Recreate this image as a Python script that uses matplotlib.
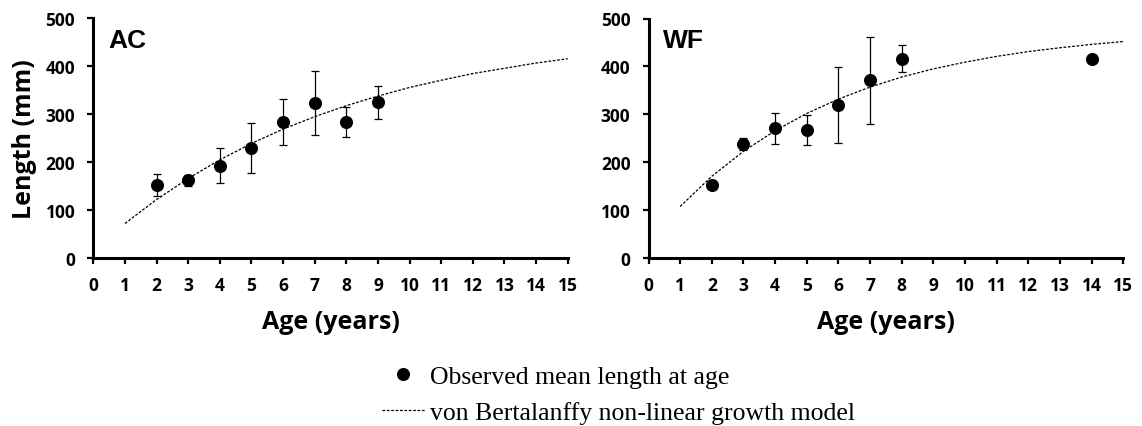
import numpy as np
import matplotlib
matplotlib.use("Agg")
import matplotlib.pyplot as plt
from matplotlib.lines import Line2D

# ---------------- data ----------------
ac_age = [2, 3, 4, 5, 6, 7, 8, 9]
ac_mean = [152, 161, 192, 229, 283, 322, 283, 324]
ac_err = [23, 12, 37, 52, 48, 67, 32, 35]

wf_age = [2, 3, 4, 5, 6, 7, 8, 14]
wf_mean = [153, 238, 271, 267, 319, 371, 416, 416]
wf_err = [np.nan, 12, 32, 31, 79, 91, 28, np.nan]

model_age = [1, 2, 3, 4, 5, 6, 7, 8, 9, 10, 11, 12, 13, 14, 15]
ac_model = [71, 121, 165, 204, 238, 268, 294, 317, 337, 355, 370, 384, 395, 406, 415]
wf_model = [108, 171, 223, 266, 302, 332, 357, 378, 395, 409, 421, 431, 439, 446, 452]

panel_names = ["AC", "WF"]
x_ticks = list(range(0, 16))
y_ticks = [0, 100, 200, 300, 400, 500]
x_title = "Age (years)"
y_title = "Length (mm)"
legend_labels = ["Observed mean length at age", "von Bertalanffy non-linear growth model"]

# ---------------- figure ----------------
W, H = 1142, 427
fig = plt.figure(figsize=(W / 100, H / 100), dpi=100)

def fx(px):
    return px / W

def fy(py):
    return 1 - py / H

tick_size = 12.5
title_font = dict(family="Open Sans", weight="bold", size=18)

axes_px = [(93.3, 567.7, 19.0, 258.5), (648.5, 1123.3, 19.5, 259.3)]
series = [(ac_age, ac_mean, ac_err, ac_model), (wf_age, wf_mean, wf_err, wf_model)]
name_px = [(108, 48), (663, 48)]

for i, ((x0, x1, yt, yb), (age, mean, err, model)) in enumerate(zip(axes_px, series)):
    ax = fig.add_axes([fx(x0), fy(yb), fx(x1) - fx(x0), fy(yt) - fy(yb)])
    ax.plot(model_age, model, color="black", lw=0.9, ls=(0, (2.2, 1.3)), zorder=2)
    ax.errorbar(age, mean, yerr=err, fmt="o", color="black", ms=8.4,
                ecolor="black", elinewidth=0.9, capsize=3.2, capthick=0.9, zorder=3)
    ax.set_xlim(0, 15)
    ax.set_ylim(0, 500)
    ax.set_xticks(x_ticks)
    ax.set_yticks(y_ticks)
    for s in ["top", "right"]:
        ax.spines[s].set_visible(False)
    for s in ["left", "bottom"]:
        ax.spines[s].set_linewidth(2.2)
    ax.tick_params(axis="both", direction="out", length=4.5, width=1.6, pad=8.5)
    for lab in ax.get_xticklabels() + ax.get_yticklabels():
        lab.set_fontfamily("Open Sans")
        lab.set_fontweight("bold")
        lab.set_fontsize(tick_size)
    ax.set_facecolor("none")
    # panel name
    fig.text(fx(name_px[i][0]), fy(name_px[i][1]), panel_names[i],
             family="Liberation Sans", weight="bold", size=19, ha="left", va="baseline")
    # x title
    fig.text(fx((x0 + x1) / 2), fy(329.3), x_title, ha="center", va="baseline", **title_font)

fig.text(fx(25), fy(139.5), y_title, rotation=90, ha="center", va="center", **title_font)

handles = [
    Line2D([], [], marker="o", ls="none", color="black", ms=8.4),
    Line2D([], [], color="black", lw=0.9, ls=(0, (2.2, 1.3))),
]
leg = fig.legend(handles, legend_labels, loc="upper left",
                 bbox_to_anchor=(fx(382), fy(366)), frameon=False,
                 borderpad=0, borderaxespad=0, handlelength=1.67, handletextpad=0.2,
                 labelspacing=0.5, prop=dict(family="Liberation Serif", size=18.5))

fig.savefig("out.png", dpi=100)
